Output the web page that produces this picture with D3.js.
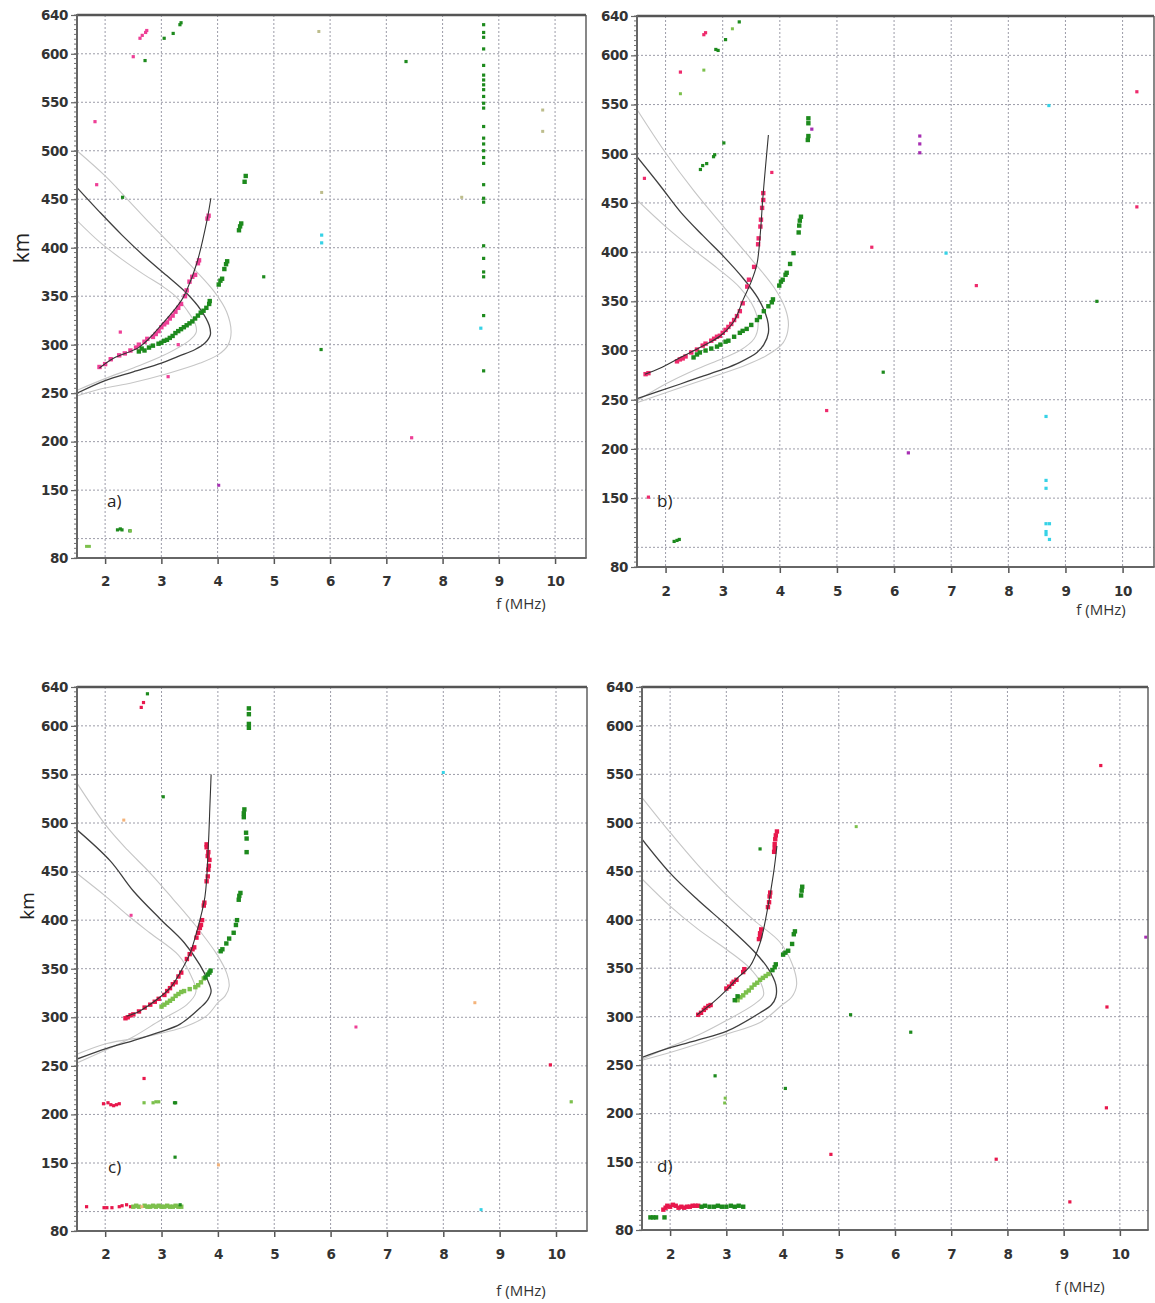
<!DOCTYPE html>
<html><head><meta charset="utf-8">
<script src="https://cdn.jsdelivr.net/npm/d3@7"></script>
<style>body{margin:0;background:#fff}</style>
</head><body>
<svg id="chart" width="1155" height="1303"></svg>
<script>
// ---------- shared axes ----------
const xTicks = [2,3,4,5,6,7,8,9,10];
const yLabelTicks = [80,150,200,250,300,350,400,450,500,550,600,640];
const yGridTicks = [100,150,200,250,300,350,400,450,500,550,600];
const yDomain = [80,640];

// ---------- panel a ----------
const A_dark = [[1.5,462],[1.9,437],[2.3,413],[2.7,391],[3.1,371],[3.45,353],[3.7,336],[3.85,320],[3.87,310],[3.78,302],[3.6,295],[3.3,288],[3.0,281],[2.5,272],[2.0,263],[1.5,250]];
const A_outer = [[1.5,500],[2.0,474],[2.38,451],[2.8,425],[3.22,400],[3.6,377],[3.95,354],[4.16,334],[4.24,313],[4.18,299],[4.02,290],[3.69,281],[3.1,270],[2.5,261],[1.9,254],[1.5,247]];
const A_inner = [[1.5,428],[1.9,406],[2.3,388],[2.7,372],[3.0,361],[3.25,350],[3.45,336],[3.6,322],[3.62,313],[3.51,305],[3.04,289],[2.5,276],[2.0,265],[1.5,253]];
const A_fit = [[1.9,276],[2.15,286],[2.62,298],[3.04,323],[3.36,346],[3.45,356],[3.63,384],[3.81,428],[3.88,451]];
const A_magentaTrace = [[1.9,277],[2.0,280],[2.1,285],[2.25,289],[2.35,291],[2.45,294],[2.55,297],[2.6,300],[2.7,303],[2.75,306],[2.85,308],[2.9,311],[2.95,314],[3.0,318],[3.05,321],[3.1,323],[3.15,327],[3.2,330],[3.25,334],[3.3,338],[3.35,342],[3.42,350],[3.45,356],[3.5,365],[3.55,370],[3.6,372],[3.65,384],[3.67,387],[3.82,430],[3.84,433]];
const A_magenta = [[2.27,313],[3.12,267],[3.3,300],[1.82,530],[1.85,465],[2.5,597],[2.62,616],[2.66,619],[2.72,622],[2.74,624],[7.45,204]];
const A_greenTrace = [[2.6,293],[2.65,296],[2.7,294],[2.78,297],[2.85,299],[2.95,301],[3.0,302],[3.05,304],[3.1,305],[3.15,307],[3.2,309],[3.25,312],[3.3,314],[3.35,316],[3.4,318],[3.45,320],[3.5,322],[3.55,324],[3.6,327],[3.65,330],[3.7,333],[3.75,335],[3.8,338],[3.85,342],[3.86,345],[4.02,362],[4.05,366],[4.08,368],[4.12,378],[4.15,383],[4.17,386],[4.38,418],[4.4,422],[4.42,425],[4.48,468],[4.5,474]];
const A_green = [[4.82,370],[2.71,593],[3.05,616],[3.21,621],[3.33,630],[3.35,632],[2.31,452],[2.22,109],[2.27,110],[2.3,109],[2.44,108],[5.84,295],[7.35,592],
  [8.73,630],[8.73,622],[8.73,617],[8.73,605],[8.73,588],[8.73,578],[8.73,573],[8.73,568],[8.73,563],[8.73,556],[8.73,549],[8.73,544],[8.73,525],[8.73,513],[8.73,507],[8.73,500],[8.73,493],[8.73,487],[8.73,465],[8.73,451],[8.73,447],[8.73,402],[8.73,389],[8.73,375],[8.73,370],[8.73,330],[8.73,273]];
const A_lightGreen = [[1.67,92],[1.72,92],[2.45,108]];
const A_cyan = [[8.68,317],[5.85,413],[5.85,405]];
const A_purple = [[4.02,155]];
const A_olive = [[5.8,623],[5.85,457],[9.78,542],[9.78,520],[8.34,452]];

// ---------- panel b ----------
const B_dark = [[1.5,497],[1.9,468],[2.26,441],[2.65,417],[3.01,396],[3.35,374],[3.62,353],[3.78,332],[3.8,318],[3.72,306],[3.6,298],[3.3,288],[3.01,281],[2.6,273],[2.26,266],[1.9,259],[1.5,251]];
const B_outer = [[1.5,545],[2.0,501],[2.5,462],[3.0,427],[3.5,393],[3.9,364],[4.1,342],[4.15,325],[4.06,308],[3.77,295],[3.4,285],[3.01,277],[2.5,267],[2.0,257],[1.5,247]];
const B_inner = [[1.5,453],[2.0,426],[2.5,402],[2.9,384],[3.3,364],[3.55,343],[3.62,326],[3.55,312],[3.3,300],[3.0,292],[2.5,280],[2.0,266],[1.5,249]];
const B_fit = [[1.64,276],[1.9,282],[2.26,293],[2.6,303],[2.96,315],[3.2,330],[3.36,352],[3.5,370],[3.6,388],[3.66,420],[3.7,453],[3.75,487],[3.8,519]];
const B_redTrace = [[1.65,276],[1.7,277],[2.2,289],[2.25,291],[2.3,292],[2.35,294],[2.45,298],[2.55,301],[2.65,305],[2.7,307],[2.8,310],[2.85,312],[2.9,314],[2.95,315],[3.0,318],[3.05,321],[3.1,324],[3.15,327],[3.2,331],[3.25,335],[3.3,340],[3.35,348],[3.43,365],[3.46,372],[3.55,385],[3.62,408],[3.63,414],[3.66,426],[3.67,433],[3.69,445],[3.71,453],[3.71,460]];
const B_red = [[2.67,621],[2.7,623],[2.26,583],[1.63,475],[3.86,481],[1.7,151],[4.82,239],[5.61,405],[7.44,366],[10.25,563],[10.25,446]];
const B_greenTrace = [[2.49,293],[2.55,296],[2.6,298],[2.7,300],[2.8,302],[2.9,304],[2.96,306],[3.05,309],[3.1,310],[3.2,314],[3.3,318],[3.35,320],[3.42,322],[3.5,326],[3.6,331],[3.65,334],[3.72,340],[3.8,345],[3.86,349],[3.88,352],[3.99,366],[4.02,370],[4.05,372],[4.1,377],[4.12,379],[4.18,388],[4.24,399],[4.33,420],[4.34,427],[4.35,432],[4.37,436],[4.49,514],[4.5,518],[4.5,531],[4.5,536]];
const B_green = [[2.61,484],[2.65,488],[2.72,490],[2.84,497],[2.86,499],[3.02,511],[2.88,606],[2.92,605],[3.05,616],[3.29,634],[2.2,107],[2.24,108],[2.15,106],[9.55,350],[5.81,278]];
const B_lightGreen = [[2.26,561],[2.67,585],[3.17,627]];
const B_purple = [[4.56,525],[6.45,518],[6.45,510],[6.45,501],[6.25,196]];
const B_cyan = [[8.71,549],[6.91,399],[8.66,233],[8.66,168],[8.66,160],[8.66,124],[8.72,124],[8.66,116],[8.66,113],[8.72,108]];

// ---------- panel c ----------
const C_dark = [[1.5,493],[2.09,461],[2.5,430],[2.98,401],[3.4,377],[3.68,354],[3.82,338],[3.88,327],[3.82,318],[3.69,310],[3.33,293],[2.98,285],[2.5,276],[2.03,268],[1.5,257]];
const C_outer = [[1.5,541],[2.02,497],[2.4,472],[2.79,449],[3.2,422],[3.61,394],[3.98,365],[4.16,345],[4.2,332],[4.13,322],[4.0,315],[3.81,302],[3.45,291],[2.8,281],[2.03,273],[1.5,262]];
const C_inner = [[1.5,448],[2.02,424],[2.4,405],[2.79,387],[3.3,364],[3.53,342],[3.61,326],[3.45,313],[2.98,297],[2.5,280],[2.0,266],[1.5,253]];
const C_fit = [[2.38,301],[2.6,306],[2.91,318],[3.15,330],[3.33,346],[3.5,365],[3.62,387],[3.77,424],[3.83,476],[3.86,520],[3.88,550]];
const C_redTrace = [[2.36,299],[2.4,300],[2.45,302],[2.5,303],[2.6,306],[2.7,310],[2.8,313],[2.88,316],[2.95,319],[3.05,323],[3.1,327],[3.15,330],[3.2,334],[3.25,336],[3.3,342],[3.35,346],[3.45,360],[3.5,365],[3.55,370],[3.58,372],[3.62,382],[3.65,387],[3.68,392],[3.7,395],[3.72,400],[3.75,415],[3.76,418],[3.8,440],[3.82,445],[3.83,452],[3.84,456],[3.85,462],[3.82,466],[3.83,470],[3.8,475],[3.8,478]];
const C_red = [[2.64,619],[2.68,624],[2.69,237],[1.97,211],[2.05,212],[2.1,210],[2.15,209],[2.2,210],[2.25,211],[1.67,105],[1.98,104],[2.03,104],[2.12,104],[2.25,105],[2.3,106],[2.38,107],[2.45,105],[9.9,251]];
const C_magenta = [[2.46,405],[6.45,290]];
const C_lightGreenTrace = [[3.0,311],[3.05,313],[3.1,315],[3.15,317],[3.2,319],[3.25,322],[3.3,324],[3.35,326],[3.4,327],[3.5,329],[3.6,331],[3.65,333],[3.7,336],[3.75,340],
  [2.5,105],[2.55,106],[2.6,105],[2.7,106],[2.75,105],[2.8,105],[2.85,106],[2.9,105],[2.95,106],[3.0,105],[3.05,105],[3.1,106],[3.15,105],[3.2,105],[3.25,106],[3.3,105],[3.35,105]];
const C_lightGreen = [[2.69,212],[2.85,212],[2.9,213],[2.95,213],[10.27,213]];
const C_greenTrace = [[3.78,341],[3.82,344],[3.85,346],[3.87,348],[4.05,368],[4.08,370],[4.15,376],[4.2,381],[4.28,387],[4.32,395],[4.34,400],[4.37,421],[4.38,425],[4.4,428],[4.51,470],[4.51,484],[4.5,490],[4.46,506],[4.46,510],[4.47,514],[4.55,598],[4.55,602],[4.55,612],[4.55,618]];
const C_green = [[3.03,527],[2.75,633],[3.23,212],[3.25,212],[3.24,156],[3.33,107]];
const C_cyan = [[8.0,552],[8.67,102]];
const C_orange = [[2.33,503],[8.56,315],[4.01,148],[2.65,105]];

// ---------- panel d ----------
const D_dark = [[1.5,483],[2.0,448],[2.5,420],[3.01,394],[3.5,367],[3.75,349],[3.88,333],[3.88,320],[3.8,312],[3.6,304],[3.01,285],[2.5,276],[2.0,268],[1.5,258]];
const D_outer = [[1.5,526],[2.0,490],[2.5,456],[3.01,425],[3.5,399],[3.95,377],[4.18,353],[4.25,333],[4.16,320],[3.99,312],[3.6,294],[3.0,282],[2.5,272],[2.0,263],[1.5,255]];
const D_inner = [[1.5,442],[2.0,414],[2.5,390],[3.01,369],[3.4,351],[3.62,334],[3.66,322],[3.5,313],[3.0,296],[2.5,281],[2.0,269],[1.5,256]];
const D_fit = [[2.48,302],[2.75,314],[3.01,328],[3.2,340],[3.42,352],[3.6,376],[3.72,407],[3.84,448],[3.9,476]];
const D_redTrace = [[2.5,302],[2.55,304],[2.6,307],[2.63,309],[2.68,311],[2.72,312],[3.0,329],[3.05,331],[3.1,334],[3.13,336],[3.18,338],[3.3,346],[3.32,349],[3.58,380],[3.6,383],[3.6,386],[3.62,390],[3.74,413],[3.76,418],[3.77,424],[3.78,428],[3.85,470],[3.86,474],[3.86,478],[3.87,483],[3.88,487],[3.9,491],
  [1.88,101],[1.92,103],[1.95,105],[2.0,104],[2.05,106],[2.1,105],[2.15,103],[2.2,104],[2.25,103],[2.3,104],[2.35,104],[2.4,105],[2.45,105],[2.5,105]];
const D_red = [[4.86,158],[9.66,559],[9.77,310],[9.76,206],[7.8,153],[9.11,109]];
const D_purple = [[10.46,382]];
const D_lightGreenTrace = [[3.2,317],[3.25,320],[3.3,322],[3.35,325],[3.4,327],[3.45,330],[3.5,333],[3.55,335],[3.6,338],[3.65,340],[3.7,342],[3.75,344]];
const D_lightGreen = [[5.31,496],[2.98,216],[2.97,211]];
const D_greenTrace = [[3.15,317],[3.2,321],[3.82,348],[3.86,351],[3.88,354],[4.01,364],[4.05,366],[4.1,368],[4.17,375],[4.2,385],[4.22,388],[4.33,425],[4.34,430],[4.35,434],
  [2.56,104],[2.62,105],[2.7,104],[2.78,104],[2.85,105],[2.92,104],[3.0,104],[3.08,105],[3.15,104],[3.22,105],[3.3,104],[1.65,93],[1.7,93],[1.75,93],[1.9,93]];
const D_green = [[3.6,473],[2.8,239],[4.05,226],[5.21,302],[6.28,284]];

// ---------- colours ----------
const COL = {magenta:'#ee3f96', red:'#e8174c', green:'#1d8a1d', lightGreen:'#7cc04c', cyan:'#36d2e6', purple:'#a72fb3', olive:'#bdbd8c', orange:'#f4b37a'};

const panels = [
  {l:77,r:586,t:15,b:558,xDom:[1.5,10.55], dark:A_dark, outer:A_outer, inner:A_inner, fit:A_fit,
   groups:[[A_magentaTrace,COL.magenta,4.4],[A_magenta,COL.magenta,3.2],[A_greenTrace,COL.green,4.4],[A_green,COL.green,3.2],[A_lightGreen,COL.lightGreen,3],[A_cyan,COL.cyan,3.2],[A_purple,COL.purple,3],[A_olive,COL.olive,3]],
   label:'a)', labelPos:[107,507], km:[22,248,21], fmhz:[521,609], tickY:586},
  {l:637,r:1154,t:16,b:567,xDom:[1.5,10.55], dark:B_dark, outer:B_outer, inner:B_inner, fit:B_fit,
   groups:[[B_redTrace,'#ee2a6c',4.4],[B_red,'#ee2a6c',3.2],[B_greenTrace,COL.green,4.4],[B_green,COL.green,3.2],[B_lightGreen,COL.lightGreen,3],[B_purple,COL.purple,3.2],[B_cyan,COL.cyan,3.2]],
   label:'b)', labelPos:[657,507], km:null, fmhz:[1101,615], tickY:596},
  {l:77,r:587,t:687,b:1231,xDom:[1.5,10.55], dark:C_dark, outer:C_outer, inner:C_inner, fit:C_fit,
   groups:[[C_redTrace,COL.red,4.4],[C_red,COL.red,3.2],[C_magenta,COL.magenta,3],[C_lightGreenTrace,COL.lightGreen,4.4],[C_lightGreen,COL.lightGreen,3.2],[C_greenTrace,COL.green,4.4],[C_green,COL.green,3.2],[C_cyan,COL.cyan,3],[C_orange,COL.orange,3]],
   label:'c)', labelPos:[108,1173], km:[27,906,19], fmhz:[521,1296], tickY:1259},
  {l:642,r:1148,t:687,b:1230,xDom:[1.5,10.5], dark:D_dark, outer:D_outer, inner:D_inner, fit:D_fit,
   groups:[[D_redTrace,COL.red,4.4],[D_red,COL.red,3.2],[D_purple,COL.purple,3],[D_lightGreenTrace,COL.lightGreen,4.4],[D_lightGreen,COL.lightGreen,3],[D_greenTrace,COL.green,4.4],[D_green,COL.green,3.2]],
   label:'d)', labelPos:[657,1172], km:null, fmhz:[1080,1292], tickY:1259}
];

const svg = d3.select('#chart');
svg.append('rect').attr('width',1155).attr('height',1303).attr('fill','#fff');

const tickFont = '"DejaVu Sans", sans-serif';

panels.forEach((p,i)=>{
  const g = svg.append('g');
  const x = d3.scaleLinear().domain(p.xDom).range([p.l,p.r]);
  const y = d3.scaleLinear().domain(yDomain).range([p.b,p.t]);
  const clipId = 'clip'+i;
  g.append('clipPath').attr('id',clipId).append('rect')
    .attr('x',p.l).attr('y',p.t).attr('width',p.r-p.l).attr('height',p.b-p.t);

  // grid
  g.append('g').selectAll('line').data(xTicks).join('line')
    .attr('x1',d=>x(d)).attr('x2',d=>x(d)).attr('y1',p.t).attr('y2',p.b)
    .attr('stroke','#9c9ca8').attr('stroke-width',1).attr('stroke-dasharray','2,2');
  g.append('g').selectAll('line').data(yGridTicks).join('line')
    .attr('x1',p.l).attr('x2',p.r).attr('y1',d=>y(d)).attr('y2',d=>y(d))
    .attr('stroke','#9c9ca8').attr('stroke-width',1).attr('stroke-dasharray','2,2');

  // minor y ticks
  g.append('g').selectAll('line').data(d3.range(80,641,5)).join('line')
    .attr('x1',p.l-3).attr('x2',p.l).attr('y1',d=>y(d)).attr('y2',d=>y(d))
    .attr('stroke','#777').attr('stroke-width',1);

  // curves
  const line = d3.line().x(d=>x(d[0])).y(d=>y(d[1])).curve(d3.curveCatmullRom.alpha(0.5));
  const cg = g.append('g').attr('clip-path',`url(#${clipId})`);
  cg.append('path').attr('d',line(p.outer)).attr('fill','none').attr('stroke','#c6c6c6').attr('stroke-width',1.1);
  cg.append('path').attr('d',line(p.inner)).attr('fill','none').attr('stroke','#c6c6c6').attr('stroke-width',1.1);
  cg.append('path').attr('d',line(p.dark)).attr('fill','none').attr('stroke','#3f3f3f').attr('stroke-width',1.3);

  // points
  p.groups.forEach(([arr,col,s])=>{
    cg.append('g').selectAll('rect').data(arr).join('rect')
      .attr('x',d=>x(d[0])-s/2).attr('y',d=>y(d[1])-s/2)
      .attr('width',s).attr('height',s).attr('fill',col);
  });
  cg.append('path').attr('d',line(p.fit)).attr('fill','none').attr('stroke','#333').attr('stroke-width',1.1);

  // axes
  const ya = d3.axisLeft(y).tickValues(yLabelTicks).tickSize(6).tickPadding(3).tickFormat(d3.format('d'));
  const yg = g.append('g').attr('transform',`translate(${p.l},0)`).call(ya);
  yg.select('.domain').remove();
  yg.selectAll('line').attr('stroke','#666').attr('stroke-width',1.2);
  yg.selectAll('text').attr('font-family',tickFont).attr('font-weight','bold')
    .attr('font-size','13.5px').attr('fill','#333').attr('letter-spacing','-0.4px');

  const xa = d3.axisBottom(x).tickValues(xTicks).tickSize(6).tickPadding(0).tickFormat(d3.format('d'));
  const xg = g.append('g').attr('transform',`translate(0,${p.b})`).call(xa);
  xg.select('.domain').remove();
  xg.selectAll('line').attr('stroke','#555').attr('stroke-width',1.5);
  xg.selectAll('text').attr('font-family',tickFont).attr('font-weight','bold')
    .attr('font-size','13.5px').attr('fill','#333').attr('letter-spacing','-0.4px')
    .attr('dy',null).attr('y',p.tickY-p.b);

  // frame
  g.append('line').attr('x1',p.l).attr('x2',p.r).attr('y1',p.t).attr('y2',p.t).attr('stroke','#555').attr('stroke-width',2.5);
  g.append('line').attr('x1',p.r).attr('x2',p.r).attr('y1',p.t).attr('y2',p.b).attr('stroke','#555').attr('stroke-width',1.4);
  g.append('line').attr('x1',p.l).attr('x2',p.r+0.7).attr('y1',p.b).attr('y2',p.b).attr('stroke','#666').attr('stroke-width',2);
  g.append('line').attr('x1',p.l).attr('x2',p.l).attr('y1',p.t-1).attr('y2',p.b+1).attr('stroke','#666').attr('stroke-width',2);

  // labels
  g.append('text').attr('x',p.labelPos[0]).attr('y',p.labelPos[1]).text(p.label)
    .attr('font-family','"Open Sans", sans-serif').attr('font-size','17px').attr('fill','#222');
  g.append('text').attr('x',p.fmhz[0]).attr('y',p.fmhz[1]).text('f (MHz)').attr('text-anchor','middle')
    .attr('font-family','"Open Sans", sans-serif').attr('font-size','15px').attr('fill','#333');
  if (p.km) {
    g.append('text').attr('transform',`translate(${p.km[0]+7},${p.km[1]}) rotate(-90)`).text('km')
      .attr('text-anchor','middle').attr('font-family','"Open Sans", sans-serif')
      .attr('font-size',p.km[2]+'px').attr('fill','#222');
  }
});
</script>
</body></html>
